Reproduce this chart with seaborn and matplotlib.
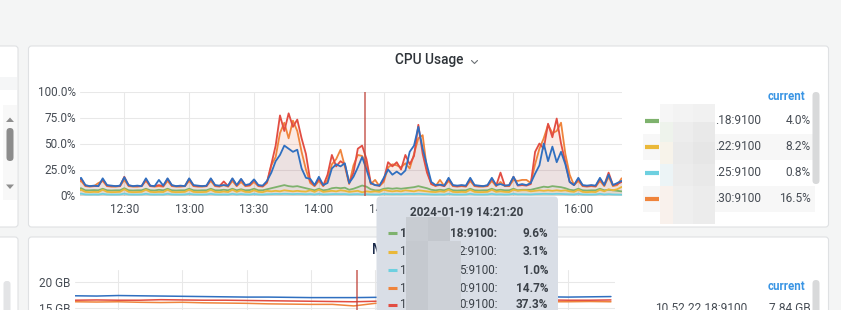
import numpy as np
import pandas as pd
import seaborn as sns
import matplotlib
matplotlib.use("Agg")
import matplotlib.pyplot as plt
import matplotlib.dates as mdates
from matplotlib.patches import FancyBboxPatch, Rectangle, Polygon

# ---------------- data ----------------
cpu_start = "2024-01-19 12:08"
cpu_step = "2min"
series_names = ["10.52.22.18:9100", "10.52.22.22:9100", "10.52.22.25:9100",
                "10.52.22.30:9100", "10.52.22.40:9100", "10.52.22.41:9100"]
series_colors = ["#7EB26D", "#EAB839", "#6ED0E0", "#EF843C", "#E24D42", "#2F6FC0"]

cpu_green = [6, 7, 5, 5, 5.2, 5, 6.5, 5, 4.8, 5, 5,
             7, 5, 4.8, 5, 5, 6.5, 5, 4.8, 5.5, 5,
             6.5, 5, 4.8, 5, 5, 6.5, 5, 4.8, 5, 5,
             6.5, 5, 5, 5.5, 5, 6.5, 5, 6, 5, 5.2,
             6.5, 5, 5, 6, 7, 8, 9, 10, 9, 8.5,
             9, 8, 7, 6, 5, 6.5, 5, 5.5, 7, 7.5,
             7, 7.5, 5.5, 6.5, 8, 9.6, 8.5, 6, 5, 5,
             6.5, 7, 6.5, 7, 6.5, 7, 7.5, 8, 9, 8,
             7, 5.5, 5, 5.5, 5, 6.5, 5, 4.8, 5, 5,
             6.5, 5, 4.8, 5, 5, 6.5, 5, 5.5, 5, 5,
             6.5, 5, 5.5, 5.5, 5.5, 6.5, 7.5, 8.5, 8, 9,
             8.5, 8, 7, 5.5, 5, 6.5, 5, 4.8, 5, 5,
             6.5, 5, 5.5, 5, 4.5, 4.0]
cpu_yellow = [4, 5.5, 3.5, 3.2, 3.5, 3.3, 5.5, 3.5, 3.2, 3.3, 3.5,
              6, 3.5, 3.2, 3.3, 3.5, 5.5, 3.5, 3.2, 3.5, 3.3,
              5.5, 3.5, 3.2, 3.3, 3.5, 5.5, 3.5, 3.2, 3.3, 3.5,
              5.5, 3.5, 3.2, 3.8, 3.3, 5.5, 3.5, 5, 3.5, 3.3,
              5, 3.5, 3.2, 4.5, 4, 4.5, 4, 5, 4.5, 4,
              4.5, 4, 3.8, 5, 3.5, 5.5, 3.5, 4, 4.5, 4,
              5, 4.5, 3.5, 4, 4.5, 3.1, 4, 3.5, 4, 3.5,
              5.5, 4.5, 4, 4.5, 4, 5, 4.5, 4, 5, 4.5,
              4, 3.5, 3.3, 4, 3.5, 5.5, 3.5, 3.2, 3.5, 3.3,
              5.5, 3.5, 3.2, 3.3, 3.5, 5.5, 3.5, 4, 3.5, 3.3,
              5.5, 4.5, 5, 5, 4, 4.5, 5, 4.5, 5, 4.5,
              5, 4.5, 5, 4, 3.5, 5.5, 3.5, 3.2, 3.5, 3.3,
              5.5, 4, 6, 5, 6, 8.2]
cpu_cyan = [1.2, 1.8, 1, 0.9, 1, 0.9, 1.6, 1, 0.9, 0.9, 1,
            1.8, 1, 0.9, 0.9, 1, 1.6, 1, 0.9, 1, 0.9,
            1.6, 1, 0.9, 0.9, 1, 1.6, 1, 0.9, 0.9, 1,
            1.6, 1, 0.9, 1, 0.9, 1.6, 1, 1.4, 1, 0.9,
            1.5, 1, 0.9, 1.2, 1.3, 1.5, 1.4, 1.6, 1.5, 1.3,
            1.5, 1.4, 1.2, 1.4, 1, 1.6, 1, 1.1, 1.3, 1.4,
            1.3, 1.4, 1, 1.2, 1.3, 1.0, 1.2, 1, 0.9, 0.9,
            1.6, 1.3, 1.2, 1.3, 1.2, 1.4, 1.5, 1.4, 1.6, 1.4,
            1.2, 1, 0.9, 1, 0.9, 1.6, 1, 0.9, 0.9, 1,
            1.6, 1, 0.9, 0.9, 1, 1.6, 1, 1.1, 0.9, 1,
            1.6, 1.1, 1.2, 1.1, 1, 1.3, 1.4, 1.6, 1.5, 1.4,
            1.6, 1.5, 1.3, 1.1, 1, 1.6, 1, 0.9, 0.9, 1,
            1.6, 1, 1.3, 1, 0.9, 0.8]
cpu_orange = [12, 14, 9, 8.5, 9, 12, 14, 9, 8.5, 8.5, 9,
              15, 9, 8.5, 8.5, 9, 14, 9, 8.5, 9, 8.5,
              14, 9, 8.5, 8.5, 9, 14, 9, 8.5, 8.5, 9,
              14, 9, 8.5, 10, 8.5, 14, 9, 13, 9, 9.5,
              13, 9, 8.5, 12, 29, 37, 60, 70, 55, 72,
              62, 42, 25, 12, 9, 14, 9, 15, 30, 35,
              44, 28, 11, 29, 39, 38, 30, 11, 15, 9,
              13, 27, 30, 29, 27, 31, 26, 40, 55, 58,
              25, 11, 9, 15, 9, 14, 9, 8.5, 9, 8.5,
              14, 9, 8.5, 8.5, 9, 14, 9, 13, 9, 9,
              15, 14, 15, 15, 12, 30, 45, 55, 68, 60,
              62, 70, 40, 20, 10, 14, 9, 8.5, 9, 8.5,
              14, 9, 18, 9, 10, 16.5]
cpu_red = [13, 16, 9.5, 9, 9, 9, 15.5, 9.5, 9, 9, 9,
           18, 9.5, 9, 9, 9, 15.5, 9, 9, 10, 9,
           16, 9.5, 9, 9, 9, 16, 9.5, 9, 9, 9,
           16, 9.5, 9, 13.5, 9, 16, 9.5, 15.5, 9.5, 10,
           15, 9.5, 9, 13, 30, 48, 77, 62, 79, 66,
           73, 55, 40, 14, 9.5, 16, 9.5, 20, 39, 28,
           33, 30, 12, 22, 45, 48, 35, 12, 10, 9.5,
           15, 32, 28, 32, 25, 39, 30, 38, 68, 40,
           22, 11, 9.5, 10, 9, 16, 9.5, 9, 9.5, 9,
           16, 9.5, 9, 9, 9.5, 16, 9.5, 22, 9.5, 9.5,
           18, 9.5, 10, 9.5, 11, 42, 50, 45, 69, 56,
           74, 50, 32, 13, 10, 16, 9.5, 9, 9.5, 9,
           16, 10, 22, 10, 11, 13]
cpu_blue = [14, 17, 10, 9, 9.5, 9, 16.5, 10, 9.5, 9, 9.5,
            17.5, 10, 9, 9.5, 9, 16.5, 9.5, 9, 15, 9.5,
            16.5, 10, 9, 9.5, 9, 16.5, 10, 9.5, 9, 9.5,
            16.5, 10, 9.5, 10, 9.5, 16.5, 10, 16, 10, 11,
            15.5, 10, 9.5, 14, 22, 33, 39, 48, 45, 42,
            44, 26, 17, 16, 10, 18, 10, 12, 26, 30,
            28, 31, 12, 18, 27, 37, 25, 12, 10, 9.5,
            17, 25, 20, 23, 20, 24, 42, 48, 66, 45,
            29, 13, 10, 10.5, 9.5, 17, 10, 9.5, 10, 9.5,
            17, 10, 9.5, 9, 10, 17, 10, 11, 9.5, 10,
            18, 10, 11, 10, 12, 21, 29, 50, 33, 47,
            32, 42, 30, 13, 10, 17, 10, 9.5, 10, 9.5,
            17, 10, 20, 10, 12, 14]
cpu_yticks = [0, 25, 50, 75, 100]
cpu_ytick_labels = ["0%", "25.0%", "50.0%", "75.0%", "100.0%"]

mem_start = "2024-01-19 12:10"
mem_step = "10min"
mem_names = ["10.52.22.30:9100", "10.52.22.40:9100", "10.52.22.41:9100"]
mem_colors = ["#EF843C", "#E24D42", "#2F6FC0"]
mem_orange = [16.2, 16.15, 16.2, 16.1, 16.05, 16.1, 16.0, 15.95, 15.9, 15.8, 15.75, 15.7, 15.7,
              15.4, 15.9, 16.0, 16.05, 16.1, 16.1, 16.15, 16.2, 16.15, 16.2, 16.2, 16.25, 16.2]
mem_red = [16.5, 16.55, 16.5, 16.5, 16.6, 16.55, 16.5, 16.5, 16.45, 16.4, 16.35, 16.3, 16.25,
           16.2, 16.3, 16.4, 16.4, 16.45, 16.5, 16.45, 16.5, 16.5, 16.55, 16.5, 16.5, 16.55]
mem_blue = [17.35, 17.3, 17.4, 17.35, 17.3, 17.25, 17.2, 17.15, 17.1, 17.1, 17.05, 17.0, 17.0,
            17.0, 17.05, 17.1, 17.05, 17.0, 17.05, 17.1, 17.05, 17.1, 17.15, 17.1, 17.15, 17.2]
mem_yticks = [15, 20]
mem_ytick_labels = ["15 GB", "20 GB"]
mem_title_visible = "M"
mem_legend_name = "10.52.22.18:9100"
mem_legend_value = "7.84 GB"

cursor_time = "2024-01-19 14:21:20"
legend_labels = [".18:9100", ".22:9100", ".25:9100", ".30:9100"]
tooltip_tails = ["18:9100:", "2:9100:", "5:9100:", "0:9100:", "0:9100:"]
tooltip_values = ["9.6%", "3.1%", "1.0%", "14.7%", "37.3%"]
hidden_xticks = ["15:00", "15:30"]   # covered by the tooltip in the reference

# ---------------- frames ----------------
cpu_times = pd.date_range(cpu_start, periods=len(cpu_blue), freq=cpu_step)
cpu_values = [cpu_green, cpu_yellow, cpu_cyan, cpu_orange, cpu_red, cpu_blue]
cpu_wide = pd.DataFrame({n: v for n, v in zip(series_names, cpu_values)}, index=cpu_times)
cpu_wide.index.name = "time"
cpu_long = cpu_wide.reset_index().melt(id_vars="time", var_name="series", value_name="value")

mem_times = pd.date_range(mem_start, periods=len(mem_blue), freq=mem_step)
mem_wide = pd.DataFrame({n: v for n, v in zip(mem_names, [mem_orange, mem_red, mem_blue])}, index=mem_times)
mem_wide.index.name = "time"
mem_long = mem_wide.reset_index().melt(id_vars="time", var_name="series", value_name="value")

# ---------------- layout ----------------
W, H = 841, 310
TXT = "#464c54"


def rect(x0, y0, x1, y1):
    return [x0 / W, 1 - y1 / H, (x1 - x0) / W, (y1 - y0) / H]


def rbox(ax, x0, y0, x1, y1, fc, ec="none", r=3, lw=0.8, z=1):
    ax.add_patch(FancyBboxPatch((x0, y0), x1 - x0, y1 - y0,
                                boxstyle=f"round,pad=0,rounding_size={r}",
                                fc=fc, ec=ec, lw=lw, zorder=z))


sns.set_theme(style="white")
plt.rcParams["font.family"] = ["Roboto", "DejaVu Sans"]

fig = plt.figure(figsize=(W / 100, H / 100), dpi=100, facecolor="#f4f5f5")

bg = fig.add_axes([0, 0, 1, 1], zorder=0)
bg.set_xlim(0, W)
bg.set_ylim(H, 0)
bg.axis("off")

# panels
rbox(bg, -10, 46, 18, 227, "white", "#dfe1e3")
rbox(bg, -10, 237, 18, 345, "white", "#dfe1e3")
rbox(bg, 28.5, 46, 828.5, 227, "white", "#dfe1e3")
rbox(bg, 28.5, 237, 828.5, 345, "white", "#dfe1e3")

# left partial panels
bg.add_patch(Rectangle((0, 77), 17.5, 13, fc="#f5f6f7", lw=0, zorder=2))
bg.add_patch(Rectangle((3, 105), 14, 95, fc="#f8f8f8", lw=0, zorder=2))
bg.add_patch(Polygon([(6, 122), (10, 117.5), (14, 122)], closed=True, fc="#8f8f8f", lw=0, zorder=3))
rbox(bg, 6.5, 128, 13.5, 161, "#8c8c8c", r=3.5, z=3)
bg.add_patch(Polygon([(6, 184.5), (10, 189), (14, 184.5)], closed=True, fc="#8f8f8f", lw=0, zorder=3))
rbox(bg, 3.5, 281, 10.5, 330, "#e3e4e6", r=3, z=3)

# titles
bg.text(429, 60, "CPU Usage", ha="center", va="center", fontsize=9.8, color="#2e3338", fontweight="medium", zorder=3)
bg.plot([471.5, 474.5, 477.5], [60.5, 63.5, 60.5], color="#6b7075", lw=0.8, zorder=3)
bg.text(372, 250, mem_title_visible, ha="left", va="center", fontsize=9.8, color="#1b2a4a",
        fontweight="medium", zorder=3)

# CPU legend
rows_y = [121, 147, 173, 199]
for k, y in enumerate(rows_y):
    if k % 2 == 1:
        bg.add_patch(Rectangle((643, y - 13), 172, 26, fc="#f7f7f7", lw=0, zorder=2))
blur_cols = [660, 673, 693, 715]
blur_rows = [104, 122, 142, 164, 186, 224]
blur_colors = [["#f6f6f6", "#f3f3f3", "#f1f1f1"],
               ["#eef3ec", "#ededed", "#e9e9e9"],
               ["#f7f3ea", "#eaeaea", "#e6e6e6"],
               ["#ecf4f6", "#ececec", "#e9e9e9"],
               ["#f9f1ec", "#efefef", "#ececec"]]
for r in range(5):
    for c in range(3):
        bg.add_patch(Rectangle((blur_cols[c], blur_rows[r]), blur_cols[c + 1] - blur_cols[c],
                               blur_rows[r + 1] - blur_rows[r], fc=blur_colors[r][c], lw=0, zorder=3))
for k, y in enumerate(rows_y):
    bg.plot([645, 659], [y, y], color=series_colors[k], lw=3, solid_capstyle="butt", zorder=4)
    bg.text(715, y, legend_labels[k], ha="left", va="center", fontsize=8.6, color=TXT, zorder=4)
    bg.text(811, y, f"{cpu_values[k][-1]:.1f}%", ha="right", va="center", fontsize=8.6, color=TXT, zorder=4)
bg.text(786, 97, "current", ha="center", va="center", fontsize=8.3, color="#3a95e4", fontweight="bold", zorder=4)
rbox(bg, 812.5, 92, 819.5, 184, "#d8d9da", r=3.5, z=5)

# memory legend
bg.text(786, 287, "current", ha="center", va="center", fontsize=8.3, color="#3a95e4", fontweight="bold", zorder=4)
bg.text(655, 309, mem_legend_name, ha="left", va="center", fontsize=8.6, color=TXT, zorder=4)
bg.text(811, 309, mem_legend_value, ha="right", va="center", fontsize=8.6, color=TXT, zorder=4)
rbox(bg, 812.5, 280, 819.5, 330, "#d8d9da", r=3.5, z=5)

# ---------------- CPU chart ----------------
axc = fig.add_axes(rect(80, 91.5, 622, 195.5), zorder=1)
axc.set_facecolor("none")
pal = dict(zip(series_names, series_colors))
for n in series_names:
    axc.fill_between(cpu_wide.index, 0, cpu_wide[n], color=pal[n], alpha=0.07, lw=0, zorder=1)
sns.lineplot(data=cpu_long, x="time", y="value", hue="series", hue_order=series_names,
             palette=pal, linewidth=1.3, legend=False, estimator=None, ax=axc, zorder=2)
axc.axvline(pd.Timestamp(cursor_time), color="#c0433b", lw=1.1, alpha=0.85, zorder=3)
axc.set_xlim(pd.Timestamp("2024-01-19 12:09:30"), pd.Timestamp("2024-01-19 16:20:12"))
axc.set_ylim(0, 100)
axc.xaxis.set_major_locator(mdates.MinuteLocator(byminute=[0, 30]))
axc.xaxis.set_major_formatter(mdates.DateFormatter("%H:%M"))
axc.set_yticks(cpu_yticks)
axc.set_yticklabels(cpu_ytick_labels)
axc.grid(True, color="#e8e8e8", lw=0.75)
axc.set_axisbelow(True)
axc.tick_params(axis="both", length=0, labelsize=8.5, colors=TXT)
axc.tick_params(axis="x", pad=5.5)
axc.tick_params(axis="y", pad=3)
axc.set_xlabel("")
axc.set_ylabel("")
for s in axc.spines.values():
    s.set_visible(False)
fig.canvas.draw()
for lab in axc.get_xticklabels():
    if lab.get_text() in hidden_xticks:
        lab.set_visible(False)

# ---------------- Memory chart ----------------
axm = fig.add_axes(rect(75, 270, 615, 386), zorder=1)
axm.set_facecolor("none")
mpal = dict(zip(mem_names, mem_colors))
sns.lineplot(data=mem_long, x="time", y="value", hue="series", hue_order=mem_names,
             palette=mpal, linewidth=1.1, legend=False, estimator=None, ax=axm, zorder=2)
axm.axvline(pd.Timestamp(cursor_time), color="#c0433b", lw=1.1, alpha=0.85, zorder=3)
axm.set_xlim(pd.Timestamp("2024-01-19 12:09:54"), pd.Timestamp("2024-01-19 16:21:54"))
axm.set_ylim(0, 22.31)
axm.xaxis.set_major_locator(mdates.MinuteLocator(byminute=[0, 30]))
axm.xaxis.set_major_formatter(mdates.DateFormatter("%H:%M"))
axm.tick_params(axis="x", labelbottom=False)
axm.set_yticks(mem_yticks)
axm.set_yticklabels(mem_ytick_labels)
axm.grid(True, color="#e8e8e8", lw=0.75)
axm.set_axisbelow(True)
axm.tick_params(axis="both", length=0, labelsize=8.5, colors=TXT)
axm.tick_params(axis="y", pad=3.5)
axm.set_xlabel("")
axm.set_ylabel("")
for s in axm.spines.values():
    s.set_visible(False)

# ---------------- tooltip ----------------
fg = fig.add_axes([0, 0, 1, 1], zorder=5)
fg.set_facecolor("none")
fg.set_xlim(0, W)
fg.set_ylim(H, 0)
fg.axis("off")
rbox(fg, 376.5, 196.5, 558, 345, "#d9dee6", r=4, z=1)
fg.text(467, 213, cursor_time, ha="center", va="center", fontsize=8.5,
        fontweight="bold", color="#3b4148", zorder=3)
tip_y = [233.3, 251.7, 270, 288.3, 305]
for k, y in enumerate(tip_y):
    fg.plot([388, 397], [y, y], color=series_colors[k], lw=2.2, solid_capstyle="butt", zorder=3)
    w = "bold" if k == 0 else "normal"
    fg.text(400, y, "1", ha="left", va="center", fontsize=8.5, fontweight=w, color="#3b4148", zorder=3)
    fg.text(497.5, y, tooltip_tails[k], ha="right", va="center", fontsize=8.5, fontweight=w,
            color="#3b4148", zorder=2)
    fg.text(548.5, y, tooltip_values[k], ha="right", va="center", fontsize=8.5, fontweight="bold",
            color="#3b4148", zorder=3)
fg.add_patch(Rectangle((406.5, 216.5), 22, 24, fc="#c8ccd2", lw=0, zorder=4))
fg.add_patch(Rectangle((428.5, 216.5), 22, 24, fc="#c3c7cd", lw=0, zorder=4))
fg.add_patch(Rectangle((406.5, 240.5), 22, 100, fc="#c5c9cf", lw=0, zorder=4))
fg.add_patch(Rectangle((428.5, 240.5), 33, 100, fc="#cdd1d7", lw=0, zorder=4))

fig.savefig("out.png", dpi=100, facecolor=fig.get_facecolor())
